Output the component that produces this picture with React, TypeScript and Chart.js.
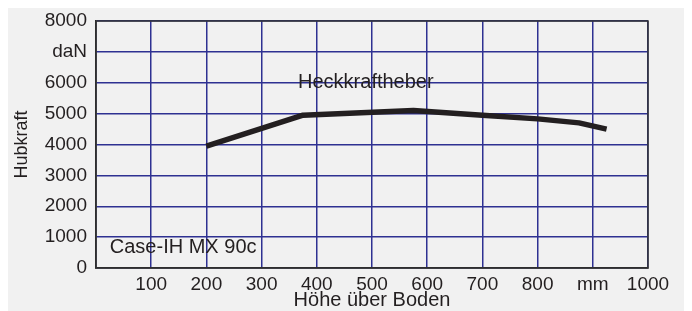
import React, { useEffect, useRef } from "react";
import { Chart, registerables } from "chart.js";

Chart.register(...registerables);

// Data
const heightMm = [200, 375, 575, 700, 800, 875, 925];
const liftForce = [3950, 4950, 5100, 4950, 4830, 4700, 4500];
const xTickLabels = ["", "100", "200", "300", "400", "500", "600", "700", "800", "mm", "1000"];
const yTickLabels = ["0", "1000", "2000", "3000", "4000", "5000", "6000", "daN", "8000"];
const xTitle = "Höhe über Boden";
const yTitle = "Hubkraft";
const curveLabel = { text: "Heckkraftheber", x: 366, y: 6000 };
const modelLabel = { text: "Case-IH MX 90c", x: 25, y: 650 };

const TEXT = "#231f20";
const GRID = "#2e3192";
const FONT = "'Liberation Sans', Arial, sans-serif";

const extrasPlugin = {
  id: "extras",
  afterDatasetsDraw(chart: any) {
    const { ctx, chartArea, scales } = chart;
    ctx.save();
    ctx.strokeStyle = "#333333";
    ctx.lineWidth = 1.5;
    ctx.strokeRect(chartArea.left, chartArea.top, chartArea.right - chartArea.left, chartArea.bottom - chartArea.top);
    ctx.fillStyle = TEXT;
    ctx.font = `20px ${FONT}`;
    ctx.textAlign = "left";
    ctx.textBaseline = "middle";
    for (const a of [curveLabel, modelLabel]) {
      ctx.fillText(a.text, scales.x.getPixelForValue(a.x), scales.y.getPixelForValue(a.y));
    }
    ctx.restore();
  },
};

export default function App() {
  const ref = useRef<HTMLCanvasElement>(null);
  useEffect(() => {
    if (!ref.current) return;
    const chart = new Chart(ref.current, {
      type: "line",
      data: {
        datasets: [
          {
            data: heightMm.map((x, i) => ({ x, y: liftForce[i] })),
            borderColor: TEXT,
            borderWidth: 5.5,
            pointRadius: 0,
            tension: 0,
            borderJoinStyle: "round",
            borderCapStyle: "butt",
          },
        ],
      },
      options: {
        animation: false,
        responsive: false,
        devicePixelRatio: 1,
        layout: { padding: { top: 13, right: 36, left: 0, bottom: 0 } },
        plugins: { legend: { display: false }, tooltip: { enabled: false } },
        scales: {
          x: {
            type: "linear",
            min: 0,
            max: 1000,
            afterBuildTicks: (s: any) => {
              s.ticks = xTickLabels.map((_, i) => ({ value: i * 100 }));
            },
            afterFit: (s: any) => {
              s.height = 43;
              s.paddingLeft = 0;
              s.paddingRight = 0;
            },
            ticks: {
              autoSkip: false,
              maxRotation: 0,
              padding: 5,
              color: TEXT,
              font: { family: FONT, size: 19 },
              callback: (v: any) => xTickLabels[Math.round(v / 100)] ?? "",
            },
            grid: { color: GRID, lineWidth: 1.5, drawTicks: false },
            border: { display: true, color: "#222", width: 1.5 },
            title: {
              display: true,
              text: xTitle,
              color: TEXT,
              font: { family: FONT, size: 20, lineHeight: 1 },
              padding: { top: 0, bottom: 1 },
            },
          },
          y: {
            type: "linear",
            min: 0,
            max: 8000,
            afterBuildTicks: (s: any) => {
              s.ticks = yTickLabels.map((_, i) => ({ value: i * 1000 }));
            },
            afterFit: (s: any) => {
              s.width = 88;
              s.paddingTop = 0;
              s.paddingBottom = 0;
            },
            ticks: {
              autoSkip: false,
              padding: 9,
              color: TEXT,
              font: { family: FONT, size: 19 },
              callback: (v: any) => yTickLabels[Math.round(v / 1000)] ?? "",
            },
            grid: { color: GRID, lineWidth: 1.5, drawTicks: false },
            border: { display: true, color: "#222", width: 1.5 },
            title: {
              display: true,
              text: yTitle,
              color: TEXT,
              font: { family: FONT, size: 18 },
              padding: { top: 3, bottom: 0 },
            },
          },
        },
      },
      plugins: [extrasPlugin],
    } as any);
    return () => chart.destroy();
  }, []);
  return (
    <div style={{ width: 676, height: 303, background: "#f1f1f1" }}>
      <canvas ref={ref} width={676} height={303} style={{ display: "block" }} />
    </div>
  );
}
